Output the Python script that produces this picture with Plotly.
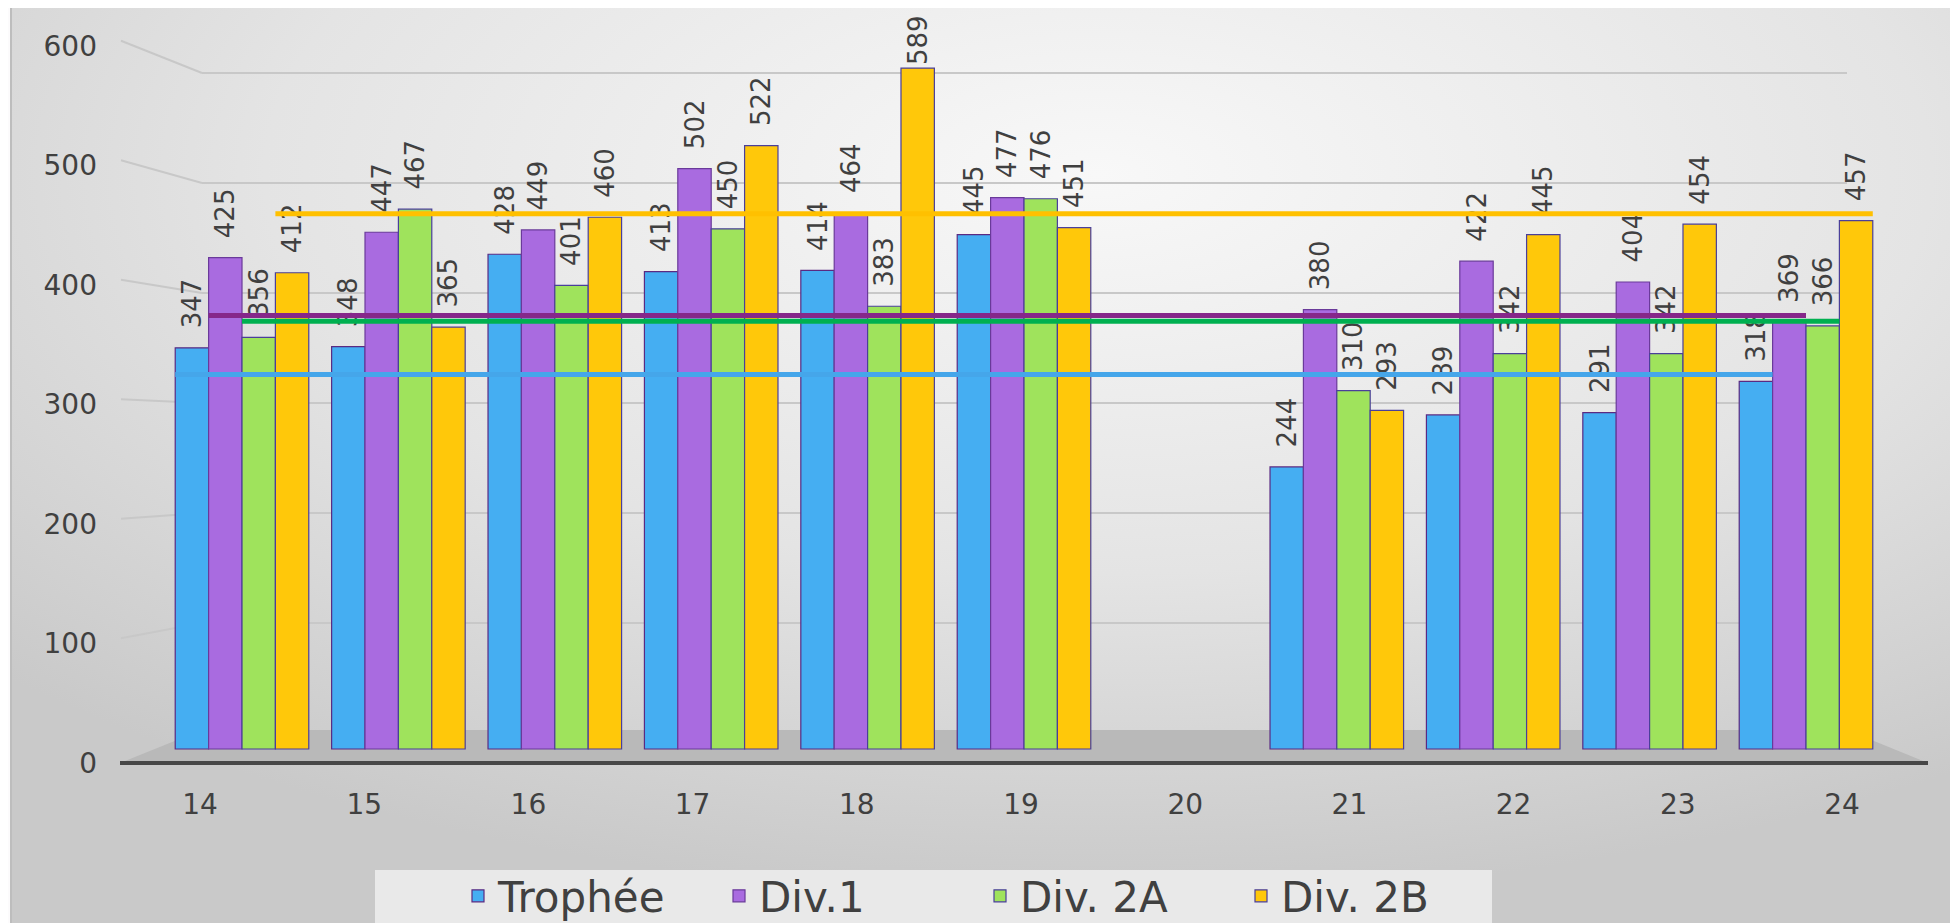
import base64
import plotly.graph_objects as go

# ---------------- data ----------------
categories = ["14", "15", "16", "17", "18", "19", "20", "21", "22", "23", "24"]
trophee = [347, 348, 428, 413, 414, 445, None, 244, 289, 291, 318]
div1 = [425, 447, 449, 502, 464, 477, None, 380, 422, 404, 369]
div2a = [356, 467, 401, 450, 383, 476, None, 310, 342, 342, 366]
div2b = [412, 365, 460, 522, 589, 451, None, 293, 445, 454, 457]
series_names = ["Trophée", "Div.1", "Div. 2A", "Div. 2B"]
avg_values = [324, 375, 370, 463]
y_ticks = [0, 100, 200, 300, 400, 500, 600]

# ---------------- styling ----------------
bar_colors = ["#45aef2", "#a96be0", "#9fe35c", "#ffc80a"]
bar_lines = ["#5a2a82", "#6a3a9a", "#4a3f9a", "#4a3f9a"]
avg_colors = ["#45a6ea", "#86278a", "#00b050", "#ffc000"]
FONT = "DejaVu Sans"
TXT = "#404040"

W, H = 1958, 923            # browser window
OFF = 8                     # default page (body) margin
FW, FH = W - OFF, H - OFF   # figure size
PL, PR, PT, PB = 120, 1925, 20, 785          # plot box, window pixels

# pixel calibration of the (pseudo 3-D) chart, window pixels
BAR_Y0, BAR_K = 749.0, 1.156       # value 0 pixel / px per unit (bars)
LAB_Y0, LAB_K = 762.7, 1.195       # tick labels on the side
WALL_Y0, WALL_K = 733.0, 1.10      # back-wall gridlines
BAR_X14, BAR_DX = 242.0, 156.4     # bar-group centres
LAB_X14, LAB_DX = 200.0, 164.2     # category labels
BARGAP = 0.146


def yrange(y0, k):
    return [(y0 - PB) / k, (y0 - PT) / k]


def xrange(x14, dx):
    return [14 + (PL - x14) / dx, 14 + (PR - x14) / dx]


def px(X):
    return (X - PL) / (PR - PL)


def py(Y):
    return (PB - Y) / (PB - PT)


xpos = [int(c) for c in categories]
series = [trophee, div1, div2a, div2b]
n = len(series)
group_w = 1 - BARGAP
bar_w = group_w / n

fig = go.Figure()

for i, (name, vals) in enumerate(zip(series_names, series)):
    texts = []
    for v in vals:
        if v is None:
            texts.append("")
        else:
            pad = "\u00a0\u00a0" if v < 560 else ""
            texts.append(pad + str(v))
    fig.add_trace(go.Bar(
        name=name, x=xpos, y=vals, text=texts,
        textposition="outside", textangle=-90, cliponaxis=False,
        constraintext="none",
        textfont=dict(family=FONT, size=26, color=TXT),
        marker=dict(color=bar_colors[i], line=dict(color=bar_lines[i], width=1.2)),
        hoverinfo="skip",
    ))

# average lines spanning each series' bars
for i, (name, vals) in enumerate(zip(series_names, series)):
    valid = [x for x, v in zip(xpos, vals) if v is not None]
    x_start = valid[0] - group_w / 2 + i * bar_w
    x_end = valid[-1] - group_w / 2 + (i + 1) * bar_w
    fig.add_trace(go.Scatter(
        x=[x_start, x_end], y=[avg_values[i], avg_values[i]], mode="lines",
        line=dict(color=avg_colors[i], width=5), showlegend=False,
        hoverinfo="skip", cliponaxis=False,
    ))

# dummy trace for the label axes
fig.add_trace(go.Scatter(x=[], y=[], xaxis="x2", yaxis="y2", showlegend=False, hoverinfo="skip"))

# ---------------- background ----------------
svg = ("<svg xmlns='http://www.w3.org/2000/svg' width='1941' height='930' preserveAspectRatio='none'>"
       "<defs><radialGradient id='g' cx='0.56' cy='0.18' r='0.78'>"
       "<stop offset='0' stop-color='#f8f8f8'/><stop offset='0.55' stop-color='#e4e4e4'/>"
       "<stop offset='1' stop-color='#c9c9c9'/></radialGradient></defs>"
       "<rect width='100%' height='100%' fill='url(#g)'/></svg>")
src = "data:image/svg+xml;base64," + base64.b64encode(svg.encode()).decode()

images = [dict(source=src, xref="paper", yref="paper", x=px(11), y=py(7),
               sizex=px(1952) - px(11), sizey=py(7) - py(937), sizing="stretch",
               xanchor="left", yanchor="top", layer="below")]

shapes = []
# back wall + side wall gridlines
for v in y_ticks[1:]:
    wy = WALL_Y0 - WALL_K * v
    ly = LAB_Y0 - LAB_K * v - 5
    shapes.append(dict(type="line", xref="paper", yref="paper", x0=px(202), x1=px(1847),
                       y0=py(wy), y1=py(wy), line=dict(color="#c8c8c8", width=2), layer="below"))
    shapes.append(dict(type="line", xref="paper", yref="paper", x0=px(121), x1=px(202),
                       y0=py(ly), y1=py(wy), line=dict(color="#c8c8c8", width=2), layer="below"))
# floor
floor_path = "M {},{} L {},{} L {},{} L {},{} Z".format(
    px(120), py(763), px(202), py(730), px(1847), py(730), px(1928), py(763))
shapes.append(dict(type="path", xref="paper", yref="paper", path=floor_path,
                   fillcolor="#b9b9b9", line=dict(width=0), layer="below"))
shapes.append(dict(type="line", xref="paper", yref="paper", x0=px(120), x1=px(1928),
                   y0=py(763), y1=py(763), line=dict(color="#474747", width=4), layer="below"))
# chart border
shapes.append(dict(type="rect", xref="paper", yref="paper", x0=px(11), x1=px(1952),
                   y0=py(7), y1=py(940), line=dict(color="#bdbdbd", width=2), layer="below"))
# legend box
shapes.append(dict(type="rect", xref="paper", yref="paper", x0=px(375), x1=px(1492),
                   y0=py(870), y1=py(940), fillcolor="#e9e9e9", line=dict(width=0), layer="below"))

fig.update_layout(
    width=FW, height=FH,
    margin=dict(l=PL - OFF, r=W - PR, t=PT - OFF, b=H - PB, pad=0, autoexpand=False),
    paper_bgcolor="#fcfbfc", plot_bgcolor="rgba(0,0,0,0)",
    barmode="group", bargap=BARGAP, bargroupgap=0,
    font=dict(family=FONT, color=TXT),
    images=images, shapes=shapes,
    showlegend=True,
    legend=dict(orientation="h", x=px(458), y=py(896), xanchor="left", yanchor="middle",
                font=dict(family=FONT, size=42, color=TXT), bgcolor="rgba(0,0,0,0)",
                entrywidth=216, entrywidthmode="pixels", traceorder="normal"),
    xaxis=dict(range=xrange(BAR_X14, BAR_DX), showticklabels=False, showgrid=False,
               zeroline=False, showline=False, fixedrange=True),
    yaxis=dict(range=yrange(BAR_Y0, BAR_K), showticklabels=False, showgrid=False,
               zeroline=False, showline=False, fixedrange=True),
    xaxis2=dict(overlaying="x", anchor="y2", side="bottom", range=xrange(LAB_X14, LAB_DX),
                tickmode="array", tickvals=xpos, ticktext=categories, showgrid=False,
                zeroline=False, showline=False, ticks="",
                tickfont=dict(family=FONT, size=28, color=TXT)),
    yaxis2=dict(overlaying="y", anchor="x2", side="left", range=yrange(LAB_Y0, LAB_K),
                tickmode="array", tickvals=y_ticks, showgrid=False, zeroline=False,
                showline=False, ticks="", ticklabelstandoff=22,
                tickfont=dict(family=FONT, size=28, color=TXT)),
)

fig.write_html("out.html")
